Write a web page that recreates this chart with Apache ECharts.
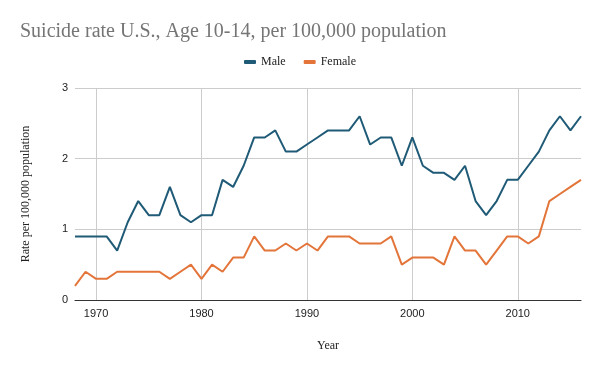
<!DOCTYPE html>
<html>
<head>
<meta charset="utf-8">
<script src="https://cdn.jsdelivr.net/npm/echarts@6/dist/echarts.min.js"></script>
<style>html,body{margin:0;padding:0;background:#fff}#c{width:600px;height:371px}</style>
</head>
<body>
<div id="c"></div>
<script>
var years = [];
for (var y = 1968; y <= 2016; y++) years.push(String(y));
var male = [0.9,0.9,0.9,0.9,0.7,1.1,1.4,1.2,1.2,1.6,
            1.2,1.1,1.2,1.2,1.7,1.6,1.9,2.3,2.3,2.4,
            2.1,2.1,2.2,2.3,2.4,2.4,2.4,2.6,2.2,2.3,
            2.3,1.9,2.3,1.9,1.8,1.8,1.7,1.9,1.4,1.2,
            1.4,1.7,1.7,1.9,2.1,2.4,2.6,2.4,2.6];
var female = [0.2,0.4,0.3,0.3,0.4,0.4,0.4,0.4,0.4,0.3,
              0.4,0.5,0.3,0.5,0.4,0.6,0.6,0.9,0.7,0.7,
              0.8,0.7,0.8,0.7,0.9,0.9,0.9,0.8,0.8,0.8,
              0.9,0.5,0.6,0.6,0.6,0.5,0.9,0.7,0.7,0.5,
              0.7,0.9,0.9,0.8,0.9,1.4,1.5,1.6,1.7];
var yTicks = [0,1,2,3];

var chart = echarts.init(document.getElementById('c'), null, {renderer:'canvas'});
var isDecade = function (idx, val) { return Number(val) % 10 === 0; };
chart.setOption({
  animation: false,
  color: ['#1f5a76', '#e3753a'],
  title: {
    text: 'Suicide rate U.S., Age 10-14, per 100,000 population',
    left: 15, top: 17,
    textStyle: {fontFamily: 'Liberation Serif', fontSize: 20, fontWeight: 'normal', color: '#757575'}
  },
  legend: {
    top: 51, left: 'center',
    itemWidth: 12, itemHeight: 4, itemGap: 18,
    icon: 'roundRect',
    textStyle: {fontFamily: 'Liberation Serif', fontSize: 12, color: '#222'},
    data: ['Male', 'Female']
  },
  grid: {left: 75, right: 19, top: 88, bottom: 71},
  xAxis: {
    type: 'category',
    data: years,
    boundaryGap: false,
    name: 'Year',
    nameLocation: 'middle',
    nameGap: 40,
    nameTextStyle: {fontFamily: 'Liberation Serif', fontSize: 12, color: '#222'},
    axisLine: {lineStyle: {color: '#333', width: 1}},
    axisTick: {show: false},
    axisLabel: {interval: isDecade, fontFamily: 'Liberation Sans', fontSize: 11, color: '#222', margin: 8},
    splitLine: {show: true, interval: isDecade, lineStyle: {color: '#cccccc', width: 1}}
  },
  yAxis: {
    type: 'value',
    min: yTicks[0], max: yTicks[yTicks.length - 1], interval: 1,
    name: 'Rate per 100,000 population',
    nameLocation: 'middle',
    nameGap: 43,
    nameTextStyle: {fontFamily: 'Liberation Serif', fontSize: 12, color: '#222'},
    axisLine: {show: false},
    axisTick: {show: false},
    axisLabel: {fontFamily: 'Liberation Sans', fontSize: 11, color: '#222', margin: 7},
    splitLine: {lineStyle: {color: '#cccccc', width: 1}}
  },
  series: [
    {name: 'Male', type: 'line', data: male, showSymbol: false, symbol: 'none', lineStyle: {width: 2}},
    {name: 'Female', type: 'line', data: female, showSymbol: false, symbol: 'none', lineStyle: {width: 2}}
  ]
});
</script>
</body>
</html>
